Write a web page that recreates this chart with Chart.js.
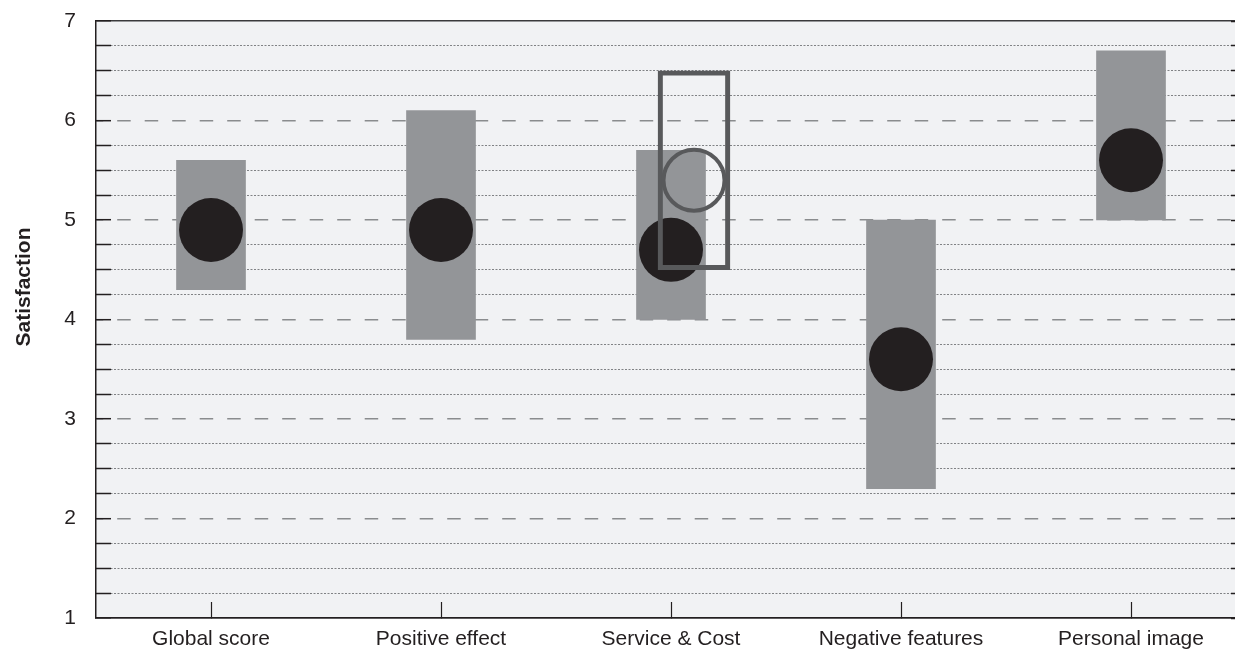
<!DOCTYPE html>
<html>
<head>
<meta charset="utf-8">
<script src="https://cdn.jsdelivr.net/npm/chart.js@4.4.1/dist/chart.umd.min.js"></script>
<style>
  html, body { margin: 0; padding: 0; background: #ffffff; overflow: hidden; }
  #wrap { width: 1235px; height: 649px; overflow: hidden; }
  canvas { display: block; }
</style>
</head>
<body>
<div id="wrap"><canvas id="chart" width="1250" height="649"></canvas></div>
<script>
// ---- Data ----
const categories = ['Global score', 'Positive effect', 'Service & Cost', 'Negative features', 'Personal image'];
const rangeLow   = [4.3, 3.8, 4.0, 2.3, 5.0];
const rangeHigh  = [5.6, 6.1, 5.7, 5.0, 6.7];
const meanValues = [4.9, 4.9, 4.7, 3.6, 5.6];
// comparison (open markers) – only for "Service & Cost"
const compLow    = [null, null, 4.5, null, null];
const compHigh   = [null, null, 6.5, null, null];
const compMean   = [null, null, 5.4, null, null];
const yTickValues = [1, 2, 3, 4, 5, 6, 7];
const yAxisTitle = 'Satisfaction';

// side shift of the comparison markers, in category units
const COMP_SHIFT = 0.11;

const compRangeData = [];
const compMeanData = [];
categories.forEach((c, i) => {
  if (compLow[i] !== null) compRangeData.push({ x: i + COMP_SHIFT, y: [compLow[i], compHigh[i]] });
  if (compMean[i] !== null) compMeanData.push({ x: i + COMP_SHIFT, y: compMean[i] });
});

const FONT = "'Liberation Sans', Arial, Helvetica, sans-serif";

const plotBg = {
  id: 'plotBg',
  beforeDraw(chart) {
    const { ctx, chartArea: a } = chart;
    ctx.save();
    ctx.fillStyle = '#f1f2f4';
    ctx.fillRect(a.left, a.top, a.right - a.left, a.bottom - a.top);
    ctx.restore();
  }
};

const sideTitle = {
  id: 'sideTitle',
  afterDraw(chart) {
    const { ctx } = chart;
    ctx.save();
    ctx.translate(24, 287);
    ctx.rotate(-Math.PI / 2);
    ctx.font = "bold 21px " + FONT;
    ctx.fillStyle = '#231f20';
    ctx.textAlign = 'center';
    ctx.textBaseline = 'middle';
    ctx.fillText(yAxisTitle, 0, 0);
    ctx.restore();
  }
};

const isInt = v => Math.abs(v - Math.round(v)) < 1e-9;
const noPad = s => { s.paddingTop = 0; s.paddingBottom = 0; s.paddingLeft = 0; s.paddingRight = 0; };

const yGrid = {
  drawOnChartArea: true,
  drawTicks: true,
  tickLength: -15,
  tickColor: '#231f20',
  tickWidth: 1.5,
  color: ctx => {
    const v = ctx.tick ? ctx.tick.value : 0;
    if (v >= 7 - 1e-9 || v <= 1 + 1e-9) return '#3a3a3c';
    return isInt(v) ? '#8a8c8e' : '#808285';
  },
  lineWidth: ctx => {
    const v = ctx.tick ? ctx.tick.value : 0;
    if (v >= 7 - 1e-9 || v <= 1 + 1e-9) return 1.5;
    return isInt(v) ? 1.4 : 1;
  }
};

new Chart(document.getElementById('chart'), {
  type: 'bar',
  data: {
    labels: categories,
    datasets: [
      {
        type: 'line',
        label: 'Comparison mean',
        xAxisID: 'x2',
        yAxisID: 'y',
        data: compMeanData,
        showLine: false,
        pointRadius: 30.5,
        pointHoverRadius: 30.5,
        pointBackgroundColor: 'rgba(0,0,0,0)',
        pointBorderColor: '#58595b',
        pointBorderWidth: 4,
        clip: false,
        order: 0
      },
      {
        type: 'bar',
        label: 'Comparison range',
        xAxisID: 'x2',
        yAxisID: 'y',
        data: compRangeData,
        backgroundColor: 'rgba(0,0,0,0)',
        borderColor: '#58595b',
        borderWidth: 4.5,
        borderSkipped: false,
        barThickness: 72,
        grouped: false,
        order: 1
      },
      {
        type: 'line',
        label: 'Mean',
        xAxisID: 'x',
        yAxisID: 'y',
        data: meanValues,
        showLine: false,
        pointRadius: 32,
        pointHoverRadius: 32,
        pointBackgroundColor: '#231f20',
        pointBorderWidth: 0,
        clip: false,
        order: 2
      },
      {
        type: 'bar',
        label: 'Range',
        xAxisID: 'x',
        yAxisID: 'y',
        data: rangeLow.map((lo, i) => [lo, rangeHigh[i]]),
        backgroundColor: '#939598',
        borderWidth: 0,
        barThickness: 69,
        grouped: false,
        order: 3
      }
    ]
  },
  options: {
    responsive: false,
    animation: false,
    events: [],
    layout: { autoPadding: false, padding: { top: 21, right: 4, left: 0, bottom: 0 } },
    plugins: {
      legend: { display: false },
      tooltip: { enabled: false },
      title: { display: false }
    },
    scales: {
      x: {
        type: 'category',
        position: 'bottom',
        offset: true,
        grid: {
          offset: false,
          drawOnChartArea: false,
          drawTicks: true,
          tickLength: -16,
          tickColor: '#231f20',
          tickWidth: 1.2
        },
        border: { display: true, color: '#231f20', width: 1.5 },
        ticks: {
          color: '#231f20',
          font: { family: FONT, size: 21 },
          padding: 25,
          maxRotation: 0,
          autoSkip: false
        },
        afterFit: s => { s.height = 31; noPad(s); }
      },
      x2: {
        type: 'linear',
        axis: 'x',
        position: 'bottom',
        display: false,
        min: -0.5,
        max: categories.length - 0.5
      },
      y: {
        type: 'linear',
        position: 'left',
        min: 1,
        max: 7,
        grid: yGrid,
        border: {
          display: true,
          color: '#231f20',
          width: 1.5,
          dash: ctx => {
            const v = ctx.tick ? ctx.tick.value : null;
            if (v === null || v >= 7 - 1e-9 || v <= 1 + 1e-9) return [];
            return isInt(v) ? [13.5, 14] : [2, 1.5];
          },
          dashOffset: ctx => {
            const v = ctx.tick ? ctx.tick.value : null;
            return (v !== null && isInt(v)) ? 6.8 : 0;
          }
        },
        ticks: {
          stepSize: 0.25,
          autoSkip: false,
          color: '#231f20',
          font: { family: FONT, size: 21 },
          padding: 35,
          callback: v => (yTickValues.includes(v) ? String(v) : '')
        },
        afterFit: s => { s.width = 96; noPad(s); }
      },
      y2: {
        type: 'linear',
        position: 'right',
        min: 1,
        max: 7,
        grid: {
          drawOnChartArea: false,
          drawTicks: true,
          tickLength: -15,
          tickColor: '#231f20',
          tickWidth: 1.5
        },
        border: { display: true, color: '#231f20', width: 1.5 },
        ticks: { stepSize: 0.25, autoSkip: false, display: false, padding: 0 },
        afterFit: s => { s.width = 0; noPad(s); }
      }
    }
  },
  plugins: [plotBg, sideTitle]
});
</script>
</body>
</html>
